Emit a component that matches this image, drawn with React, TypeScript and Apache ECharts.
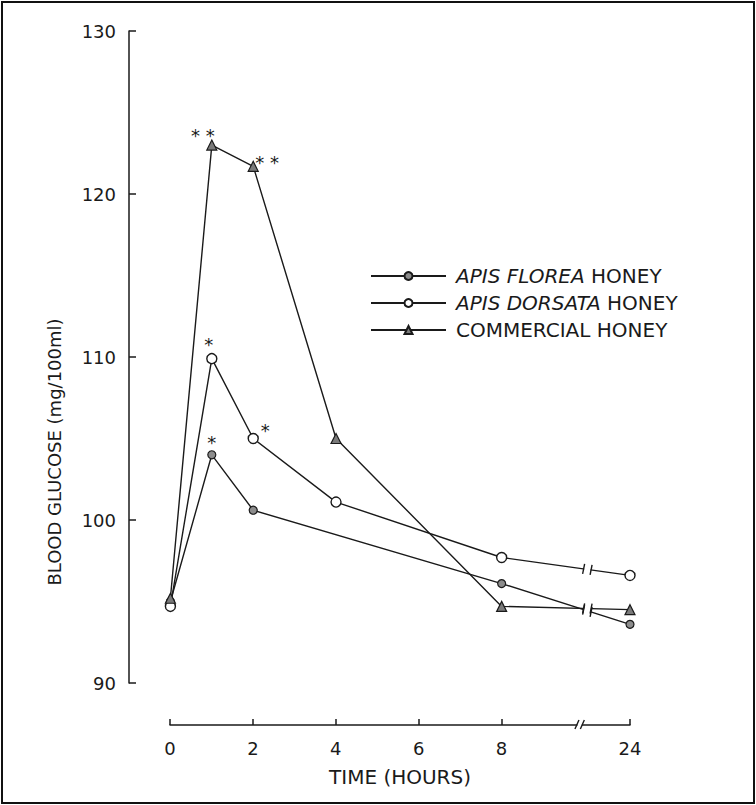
import React, { useEffect, useRef } from "react";
import * as echarts from "echarts";

// ---- data ----
const timeHours = [0, 1, 2, 4, 8, 24];
const floreaValues: (number | null)[] = [95.0, 104.0, 100.6, null, 96.1, 93.6];
const dorsataValues: (number | null)[] = [94.7, 109.9, 105.0, 101.1, 97.7, 96.6];
const commercialValues: (number | null)[] = [95.2, 123.0, 121.7, 105.0, 94.7, 94.5];
const floreaStars = ["", "*", "", "", "", ""];
const dorsataStars = ["", "*", "*", "", "", ""];
const commercialStars = ["", "* *", "* *", "", "", ""];
const seriesNames = ["APIS FLOREA HONEY", "APIS DORSATA HONEY", "COMMERCIAL HONEY"];
const xTickHours = [0, 2, 4, 6, 8, 24];
const yTicks = [90, 100, 110, 120, 130];
const xAxisTitle = "TIME (HOURS)";
const yAxisTitle = "BLOOD GLUCOSE (mg/100ml)";

// ---- broken time scale: 8 -> 24 h compressed ----
const BREAK_FROM = 8;
const POS_24 = 11.1;
const toPos = (h: number) => (h <= BREAK_FROM ? h : BREAK_FROM + ((h - BREAK_FROM) * (POS_24 - BREAK_FROM)) / 16);

const FONT = "DejaVu Sans, Verdana, sans-serif";
const INK = "#1a1a1a";

const starOffsets: Record<string, [number, number][]> = {
  florea: [[0, 0], [0, 6], [0, 0], [0, 0], [0, 0], [0, 0]],
  dorsata: [[0, 0], [-3, 6], [12, 12], [0, 0], [0, 0], [0, 0]],
  commercial: [[0, 0], [-9, 10], [14, 16], [0, 0], [0, 0], [0, 0]],
};

function buildData(values: (number | null)[], stars: string[], offsets: [number, number][]) {
  const out: any[] = [];
  timeHours.forEach((t, i) => {
    const v = values[i];
    if (v == null) return;
    const s = stars[i];
    out.push({
      value: [toPos(t), v],
      label: s
        ? {
            show: true,
            formatter: s,
            position: "top",
            offset: offsets[i],
            fontSize: 18,
            fontFamily: FONT,
            color: INK,
          }
        : { show: false },
    });
  });
  return out;
}

export default function App() {
  const ref = useRef<HTMLDivElement>(null);

  useEffect(() => {
    if (!ref.current) return;
    const chart = echarts.init(ref.current, undefined, { renderer: "svg" });

    const lineStyle = { color: INK, width: 1.4 };
    const tickPositions = xTickHours.map(toPos);

    const option: any = {
      animation: false,
      backgroundColor: "#ffffff",
      grid: [
        { left: 129, top: 31, width: 501, height: 652 },
        { left: 170, top: 720, width: 460, height: 5 },
      ],
      xAxis: [
        { gridIndex: 0, type: "value", min: -1, max: POS_24, show: false },
        {
          gridIndex: 1,
          type: "value",
          min: 0,
          max: POS_24,
          position: "bottom",
          axisLine: { show: true, onZero: false, lineStyle: { color: INK, width: 1.5 } },
          axisTick: {
            show: true,
            inside: true,
            length: 6,
            customValues: tickPositions,
            lineStyle: { color: INK, width: 1.5 },
          },
          axisLabel: {
            show: true,
            customValues: tickPositions,
            formatter: (v: number) => {
              const idx = tickPositions.findIndex((p) => Math.abs(p - v) < 1e-6);
              return idx >= 0 ? String(xTickHours[idx]) : "";
            },
            margin: 14,
            fontSize: 18,
            fontFamily: FONT,
            color: INK,
          },
          splitLine: { show: false },
          name: xAxisTitle,
          nameLocation: "middle",
          nameGap: 42,
          nameTextStyle: { fontSize: 20, fontFamily: FONT, color: INK },
        },
      ],
      yAxis: [
        {
          gridIndex: 0,
          type: "value",
          min: yTicks[0],
          max: yTicks[yTicks.length - 1],
          interval: 10,
          axisLine: { show: true, onZero: false, lineStyle: { color: INK, width: 1.5 } },
          axisTick: { show: true, inside: true, length: 7, lineStyle: { color: INK, width: 1.5 } },
          axisLabel: { margin: 13, fontSize: 18, fontFamily: FONT, color: INK },
          splitLine: { show: false },
        },
        { gridIndex: 1, type: "value", show: false, min: 0, max: 1 },
      ],
      legend: {
        orient: "vertical",
        left: 370,
        top: 266,
        padding: 0,
        itemWidth: 75,
        itemHeight: 10,
        itemGap: 7,
        data: seriesNames,
        formatter: (name: string) => {
          if (name.startsWith("APIS")) {
            const parts = name.split(" ");
            return `{i|${parts[0]} ${parts[1]}} {n|${parts.slice(2).join(" ")}}`;
          }
          return `{n|${name}}`;
        },
        textStyle: {
          color: INK,
          fontFamily: FONT,
          fontSize: 20,
          padding: [0, 0, 0, 5],
          rich: {
            i: { fontStyle: "italic", fontSize: 20, fontFamily: FONT, color: INK },
            n: { fontSize: 20, fontFamily: FONT, color: INK },
          },
        },
      },
      series: [
        {
          name: seriesNames[0],
          type: "line",
          xAxisIndex: 0,
          yAxisIndex: 0,
          data: buildData(floreaValues, floreaStars, starOffsets.florea),
          symbol: "circle",
          symbolSize: 8,
          itemStyle: { color: "#8c8c8c", borderColor: INK, borderWidth: 1.2 },
          lineStyle,
        },
        {
          name: seriesNames[1],
          type: "line",
          xAxisIndex: 0,
          yAxisIndex: 0,
          data: buildData(dorsataValues, dorsataStars, starOffsets.dorsata),
          symbol: "circle",
          symbolSize: 10,
          itemStyle: { color: "#ffffff", borderColor: INK, borderWidth: 1.4 },
          lineStyle,
        },
        {
          name: seriesNames[2],
          type: "line",
          xAxisIndex: 0,
          yAxisIndex: 0,
          data: buildData(commercialValues, commercialStars, starOffsets.commercial),
          symbol: "triangle",
          symbolSize: 10,
          itemStyle: { color: "#7a7a7a", borderColor: INK, borderWidth: 1.2 },
          lineStyle,
        },
      ],
    };

    chart.setOption(option);

    // ---- break marks (drawn on top of lines and axis) ----
    const g: any[] = [];
    const lineBreakA = 9.98;
    const lineBreakB = 10.16;
    const allValues = [floreaValues, dorsataValues, commercialValues];
    const i8 = timeHours.indexOf(8);
    const i24 = timeHours.indexOf(24);
    allValues.forEach((vals) => {
      const a = vals[i8];
      const b = vals[i24];
      if (a == null || b == null) return;
      const p8 = chart.convertToPixel({ gridIndex: 0 }, [toPos(8), a]) as number[];
      const p24 = chart.convertToPixel({ gridIndex: 0 }, [toPos(24), b]) as number[];
      const xa = (chart.convertToPixel({ gridIndex: 0 }, [lineBreakA, a]) as number[])[0];
      const xb = (chart.convertToPixel({ gridIndex: 0 }, [lineBreakB, a]) as number[])[0];
      const yAt = (x: number) => p8[1] + ((x - p8[0]) * (p24[1] - p8[1])) / (p24[0] - p8[0]);
      const ya = yAt(xa);
      const yb = yAt(xb);
      g.push({
        type: "rect",
        z: 100,
        shape: { x: xa + 0.5, y: Math.min(ya, yb) - 5, width: xb - xa - 1, height: Math.abs(yb - ya) + 10 },
        style: { fill: "#ffffff" },
      });
      g.push({
        type: "line",
        z: 101,
        shape: { x1: xa - 1, y1: ya + 5, x2: xa + 1, y2: ya - 5 },
        style: { stroke: INK, lineWidth: 1.4 },
      });
      g.push({
        type: "line",
        z: 101,
        shape: { x1: xb - 1, y1: yb + 5, x2: xb + 1, y2: yb - 5 },
        style: { stroke: INK, lineWidth: 1.4 },
      });
    });
    // x axis break
    const axA = chart.convertToPixel({ xAxisIndex: 1, yAxisIndex: 1 }, [9.82, 0]) as number[];
    const axB = chart.convertToPixel({ xAxisIndex: 1, yAxisIndex: 1 }, [9.95, 0]) as number[];
    g.push({
      type: "rect",
      z: 100,
      shape: { x: axA[0] + 0.5, y: axA[1] - 4, width: axB[0] - axA[0] - 1, height: 8 },
      style: { fill: "#ffffff" },
    });
    [axA, axB].forEach((p) => {
      g.push({
        type: "line",
        z: 101,
        shape: { x1: p[0] - 2, y1: p[1] + 4, x2: p[0] + 2, y2: p[1] - 5 },
        style: { stroke: INK, lineWidth: 1.4 },
      });
    });
    // y axis title
    g.push({
      type: "text",
      z: 50,
      x: 54,
      y: 452,
      rotation: Math.PI / 2,
      style: {
        text: yAxisTitle,
        fontSize: 18,
        fontFamily: FONT,
        fill: INK,
        align: "center",
        verticalAlign: "middle",
      },
    });
    // figure frame
    g.push({
      type: "rect",
      z: 50,
      shape: { x: 2, y: 2, width: 752, height: 801 },
      style: { fill: "none", stroke: "#111111", lineWidth: 2 },
    });

    chart.setOption({ graphic: g });

    return () => chart.dispose();
  }, []);

  return (
    <div
      ref={ref}
      style={{ position: "fixed", left: 0, top: 0, width: 756, height: 805, background: "#fff" }}
    />
  );
}
